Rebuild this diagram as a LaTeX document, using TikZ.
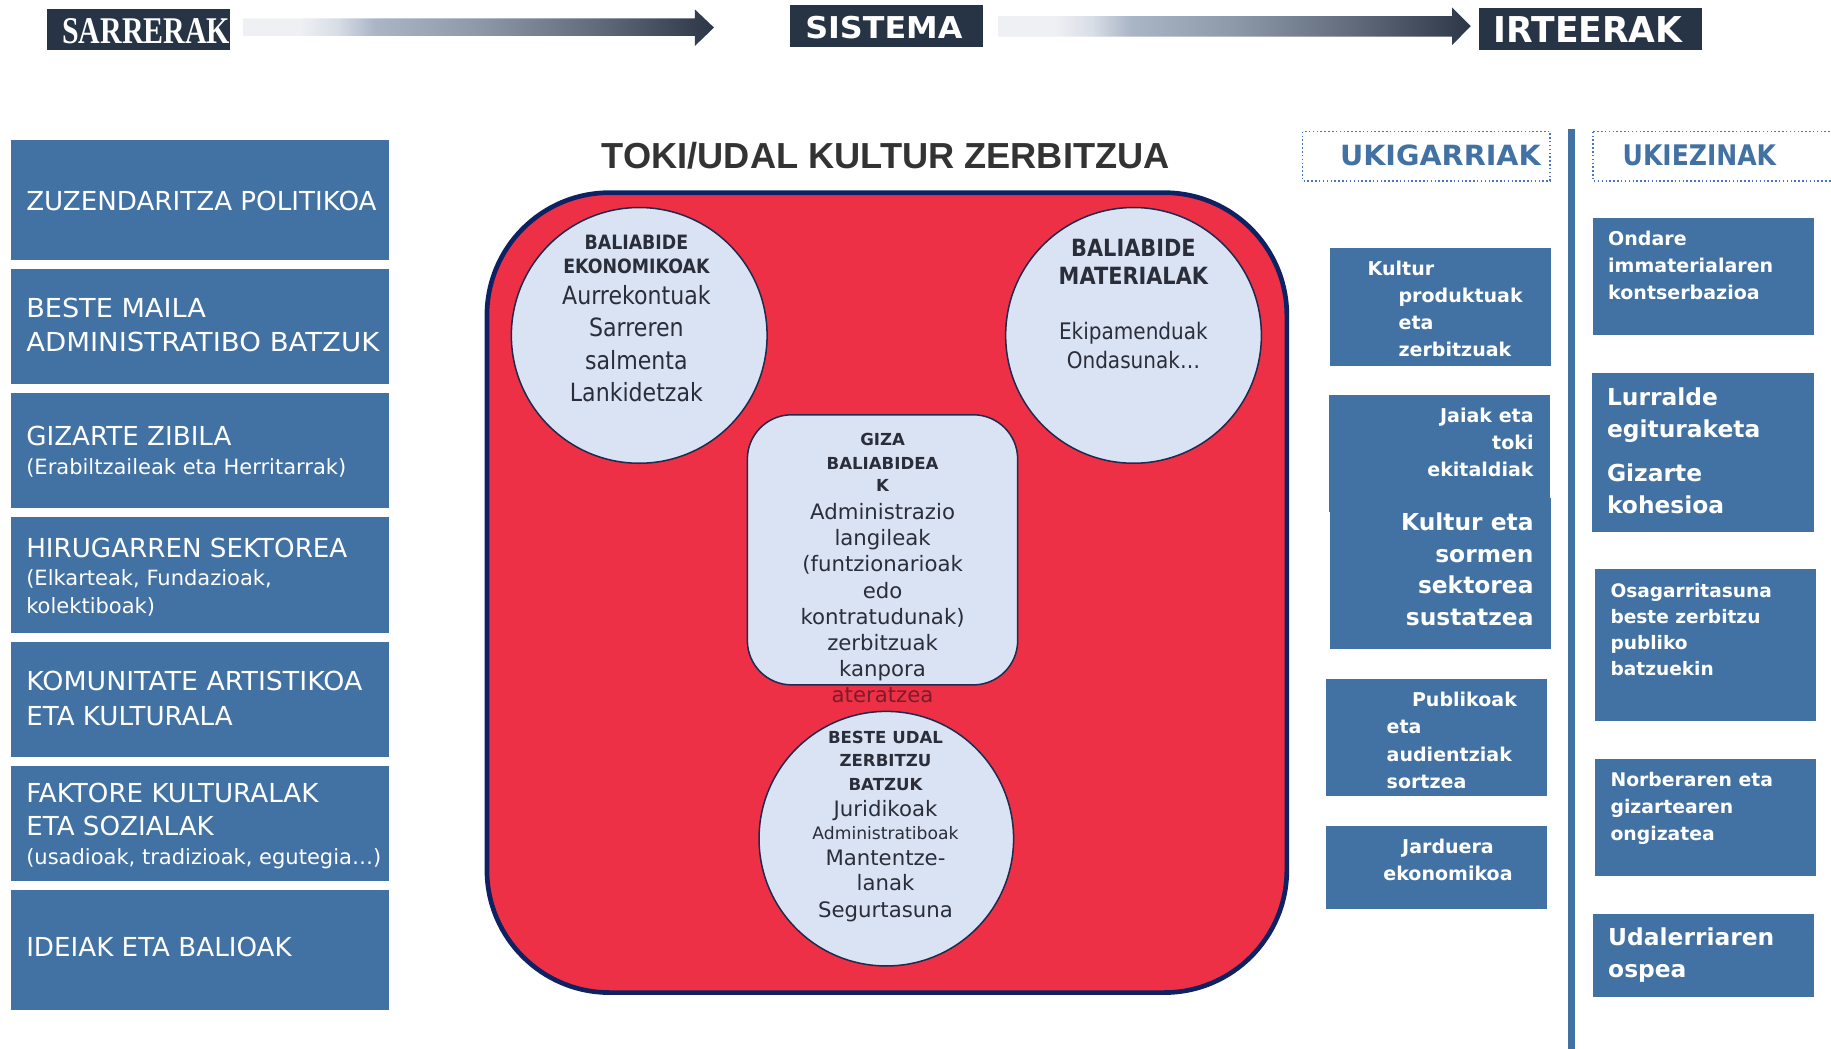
\documentclass[tikz,border=0pt]{standalone}
\usepackage{fontspec}
\usepackage{graphicx}
\setmainfont{DejaVu Sans}
\newfontfamily\cfont[FakeStretch=0.88]{DejaVu Sans}
\newfontfamily\afont{Liberation Sans}
\newfontfamily\tfont{Liberation Serif}
\newcommand\fsz[1]{\fontsize{#1}{#1}\selectfont}
\definecolor{hdr}{HTML}{273446}
\definecolor{bbox}{HTML}{4272A3}
\definecolor{redf}{HTML}{EE3046}
\definecolor{navy}{HTML}{0D2163}
\definecolor{lightc}{HTML}{DAE3F3}
\definecolor{cbord}{HTML}{1E2B4F}
\definecolor{ctext}{HTML}{2A2E3A}
\definecolor{ttext}{HTML}{333333}
\definecolor{maroon}{HTML}{7A1C2A}
\definecolor{dotc}{HTML}{4A74C9}
\definecolor{g0}{HTML}{EEF0F3}
\definecolor{g1}{HTML}{D8DDE6}
\definecolor{g2}{HTML}{AAB5C6}
\definecolor{g3}{HTML}{8D98A8}
\definecolor{g4}{HTML}{616B7B}
\definecolor{g5}{HTML}{2C3647}
\pgfdeclarehorizontalshading{arrowshade}{100bp}{color(0bp)=(g0); color(25bp)=(g0); color(31bp)=(g0); color(35bp)=(g1); color(39bp)=(g2); color(50bp)=(g3); color(62.5bp)=(g4); color(75bp)=(g5); color(100bp)=(g5)}
\tikzset{
  lt/.style={inner sep=0pt, anchor=base west, text=white},
  rt/.style={inner sep=0pt, anchor=base east, text=white},
  ct/.style={inner sep=0pt, anchor=base, text=ctext},
  wt/.style={inner sep=0pt, anchor=base, text=white},
  bluebox/.style={fill=bbox, draw=none},
  lbig/.style={font=\fsz{22.4}},
  lsmall/.style={font=\fsz{18}},
  rsm/.style={font=\bfseries\fsz{16.3}},
  rbig/.style={font=\bfseries\fsz{20}},
  cbold/.style={font=\cfont\bfseries\fsz{16.9}},
  cbody/.style={font=\cfont\fsz{21.5}},
  gbold/.style={font=\bfseries\fsz{14.2}},
  gbody/.style={font=\fsz{18.2}},
  lightshape/.style={fill=lightc, draw=cbord, line width=1.3pt},
}
\begin{document}
\begin{tikzpicture}[x=1pt,y=-1pt]
\useasboundingbox (0,0) rectangle (1568,898);
\fill[white] (0,0) rectangle (1568,898);

% ---------- header ----------
\fill[hdr] (40.2,7.7) rectangle (197.1,42.8);
\node[inner sep=0pt, text=white] (sarrerak) at (125.2,26.4) {\resizebox{143.8pt}{21.4pt}{\tfont\bfseries SARRERAK}};
\shade[shading=arrowshade] (208.1,15.7) -- (595,15.7) -- (595,8) -- (611.4,23.6) -- (595,39.4) -- (595,30.8) -- (208.1,30.8) -- cycle;
\fill[hdr] (676.5,4.3) rectangle (841.8,40);
\node[inner sep=0pt, text=white] (sistema) at (756.9,23.25) {\resizebox{134.6pt}{19.1pt}{\bfseries SISTEMA}};
\shade[shading=arrowshade] (854.9,13.7) -- (1243.5,13.7) -- (1243.5,6.3) -- (1259.5,22.4) -- (1243.5,38.5) -- (1243.5,31.4) -- (854.9,31.4) -- cycle;
\fill[hdr] (1266.6,7.1) rectangle (1457.3,42.8);
\node[inner sep=0pt, text=white] (irteerak) at (1359.9,25.4) {\resizebox{161.8pt}{22.2pt}{\bfseries IRTEERAK}};

% ---------- left column ----------
\fill[bluebox] (9.4,119.9) rectangle (333.1,222.7);
\fill[bluebox] (9.4,230.4) rectangle (333.1,328.6);
\fill[bluebox] (9.4,336.6) rectangle (333.1,434.8);
\fill[bluebox] (9.4,442.9) rectangle (333.1,542.1);
\fill[bluebox] (9.4,550) rectangle (333.1,648);
\fill[bluebox] (9.4,656.1) rectangle (333.1,754.1);
\fill[bluebox] (9.4,762.2) rectangle (333.1,865.1);
\node[lt, lbig] (l1a) at (22.3,180.3) {ZUZENDARITZA POLITIKOA};
\node[lt, lbig] (l2a) at (22.3,272.2) {\scalebox{1.037}[1]{BESTE MAILA}};
\node[lt, lbig] (l2b) at (22.3,300.8) {\scalebox{1.053}[1]{ADMINISTRATIBO BATZUK}};
\node[lt, lbig] (l3a) at (22.3,381.6) {GIZARTE ZIBILA};
\node[lt, lsmall] (l3b) at (22.3,406.2) {(Erabiltzaileak eta Herritarrak)};
\node[lt, lbig] (l4a) at (22.3,477.5) {HIRUGARREN SEKTOREA};
\node[lt, lsmall] (l4b) at (22.3,501.4) {(Elkarteak, Fundazioak,};
\node[lt, lsmall] (l4c) at (22.3,525) {kolektiboak)};
\node[lt, lbig] (l5a) at (22.3,591.7) {\scalebox{1.025}[1]{KOMUNITATE ARTISTIKOA}};
\node[lt, lbig] (l5b) at (22.3,621.1) {ETA KULTURALA};
\node[lt, lbig] (l6a) at (22.3,686.8) {FAKTORE KULTURALAK};
\node[lt, lbig] (l6b) at (22.3,715.2) {ETA SOZIALAK};
\node[lt, lsmall] (l6c) at (22.3,740) {(usadioak, tradizioak, egutegia…)};
\node[lt, lbig] (l7a) at (22.3,819.2) {IDEIAK ETA BALIOAK};

% ---------- centre ----------
\node[inner sep=0pt, anchor=base, text=ttext, font=\afont\bfseries\fsz{31}] (title) at (758.5,144.1) {TOKI/UDAL KULTUR ZERBITZUA};
\filldraw[fill=redf, draw=navy, line width=4pt, rounded corners=105pt] (417,165) rectangle (1102,850);

\node[circle, lightshape, minimum size=219pt, inner sep=0pt] (circA) at (547.4,287.2) {};
\node[circle, lightshape, minimum size=219pt, inner sep=0pt] (circB) at (970.7,287.2) {};
\filldraw[lightshape, rounded corners=38pt] (640,355.2) rectangle (871.5,586.5);
\node[circle, lightshape, minimum size=218pt, inner sep=0pt] (circC) at (759,718.2) {};

\node[ct, cbold] (a1) at (545,213.9) {BALIABIDE};
\node[ct, cbold] (a2) at (545,233.9) {EKONOMIKOAK};
\node[ct, cbody] (a3) at (545,260.4) {Aurrekontuak};
\node[ct, cbody] (a4) at (545,288.4) {Sarreren};
\node[ct, cbody] (a5) at (545,316.1) {salmenta};
\node[ct, cbody] (a6) at (545,343.8) {Lankidetzak};

\node[ct, font=\cfont\bfseries\fsz{20.3}] (b1) at (970.6,219.5) {BALIABIDE};
\node[ct, font=\cfont\bfseries\fsz{20.3}] (b2) at (970.6,243.8) {MATERIALAK};
\node[ct, font=\cfont\fsz{19.5}] (b3) at (970.6,290.9) {Ekipamenduak};
\node[ct, font=\cfont\fsz{19.5}] (b4) at (970.6,315.2) {Ondasunak…};

\node[ct, gbold] (g1) at (755.8,381.8) {GIZA};
\node[ct, gbold] (g2) at (755.8,401.7) {BALIABIDEA};
\node[ct, gbold] (g3) at (755.8,421.3) {K};
\node[ct, gbody] (g4) at (755.8,445.2) {Administrazio};
\node[ct, gbody] (g5) at (755.8,467.5) {langileak};
\node[ct, gbody] (g6) at (755.8,489.8) {(funtzionarioak};
\node[ct, gbody] (g7) at (755.8,512.1) {edo};
\node[ct, gbody] (g8) at (755.8,534.4) {kontratudunak)};
\node[ct, gbody] (g9) at (755.8,556.7) {zerbitzuak};
\node[ct, gbody] (g10) at (755.8,579) {kanpora};
\node[ct, gbody, text=maroon] (g11) at (755.8,601.3) {ateratzea};

\node[ct, gbold] (d1) at (758.3,636.7) {BESTE UDAL};
\node[ct, gbold] (d2) at (758.3,656.7) {ZERBITZU};
\node[ct, gbold] (d3) at (758.3,677.2) {BATZUK};
\node[ct, gbody] (d4) at (758.3,699.2) {Juridikoak};
\node[ct, font=\fsz{14.7}] (d5) at (758.3,718.7) {Administratiboak};
\node[ct, gbody] (d6) at (758.3,741.1) {Mantentze-};
\node[ct, gbody] (d7) at (758.3,762.6) {lanak};
\node[ct, gbody] (d8) at (758.3,785.4) {Segurtasuna};

% ---------- right side ----------
\draw[dotc, dotted, line width=1.3pt] (1115.6,112.8) rectangle (1327.5,155);
\draw[dotc, dotted, line width=1.3pt] (1364.3,112.8) rectangle (1600,155);
\node[inner sep=0pt, text=bbox] (ukig) at (1233.5,133.1) {\resizebox{171.8pt}{17.7pt}{\bfseries UKIGARRIAK}};
\node[inner sep=0pt, text=bbox] (ukiez) at (1455.3,133.1) {\resizebox{131.4pt}{17.7pt}{\bfseries UKIEZINAK}};
\draw[bbox, line width=6pt] (1346,110.8) -- (1346,905);

\fill[bluebox] (1139,212.4) rectangle (1328,313.2);
\fill[bluebox] (1138,338.3) rectangle (1327.6,438.2);
\fill[bluebox] (1139,426.8) rectangle (1328,556);
\fill[bluebox] (1135.7,581.4) rectangle (1325,681.3);
\fill[bluebox] (1135.7,707.4) rectangle (1325,778.1);

\fill[bluebox] (1364.4,186.7) rectangle (1553.6,286.6);
\fill[bluebox] (1363.5,319.4) rectangle (1553.2,455.2);
\fill[bluebox] (1366,487.3) rectangle (1555.4,617.1);
\fill[bluebox] (1366,650.1) rectangle (1555.4,750);
\fill[bluebox] (1364.4,782.9) rectangle (1553.6,853.4);

\node[lt, rsm] (r1a) at (1171,235.8) {Kultur};
\node[lt, rsm] (r1b) at (1197.5,259.1) {produktuak};
\node[lt, rsm] (r1c) at (1197.5,282.4) {eta};
\node[lt, rsm] (r1d) at (1197.5,305.7) {zerbitzuak};

\node[rt, rsm] (r2a) at (1313.5,361.4) {Jaiak eta};
\node[rt, rsm] (r2b) at (1313.5,384.7) {toki};
\node[rt, rsm] (r2c) at (1313.5,408) {ekitaldiak};

\node[rt, rbig] (r3a) at (1313.5,454.1) {Kultur eta};
\node[rt, rbig] (r3b) at (1313.5,481.3) {sormen};
\node[rt, rbig] (r3c) at (1313.5,508.5) {sektorea};
\node[rt, rbig] (r3d) at (1313.5,535.7) {sustatzea};

\node[lt, rsm] (r4a) at (1209,605) {Publikoak};
\node[lt, rsm] (r4b) at (1187.3,628.5) {eta};
\node[lt, rsm] (r4c) at (1187.3,652) {audientziak};
\node[lt, rsm] (r4d) at (1187.3,675.5) {sortzea};

\node[wt, rsm] (r5a) at (1240,731) {Jarduera};
\node[wt, rsm] (r5b) at (1240,754.3) {ekonomikoa};

\node[lt, rsm] (s1a) at (1377,210) {Ondare};
\node[lt, rsm] (s1b) at (1377,233.3) {immaterialaren};
\node[lt, rsm] (s1c) at (1377,256.6) {kontserbazioa};

\node[lt, rbig] (s2a) at (1376,347) {Lurralde};
\node[lt, rbig] (s2b) at (1376,374.5) {egituraketa};
\node[lt, rbig] (s2c) at (1376,412.7) {Gizarte};
\node[lt, rbig] (s2d) at (1376,439.9) {kohesioa};

\node[lt, font=\bfseries\fsz{15.9}] (s3a) at (1379,511.9) {Osagarritasuna};
\node[lt, font=\bfseries\fsz{15.9}] (s3b) at (1379,534) {beste zerbitzu};
\node[lt, font=\bfseries\fsz{15.9}] (s3c) at (1379,556.1) {publiko};
\node[lt, font=\bfseries\fsz{15.9}] (s3d) at (1379,578.2) {batzuekin};

\node[lt, font=\bfseries\fsz{16.1}] (s4a) at (1379,673.1) {Norberaren eta};
\node[lt, font=\bfseries\fsz{16.1}] (s4b) at (1379,696.4) {gizartearen};
\node[lt, font=\bfseries\fsz{16.1}] (s4c) at (1379,719.7) {ongizatea};

\node[lt, rbig] (s5a) at (1377,809.7) {Udalerriaren};
\node[lt, rbig] (s5b) at (1377,836.9) {ospea};
\end{tikzpicture}
\end{document}
